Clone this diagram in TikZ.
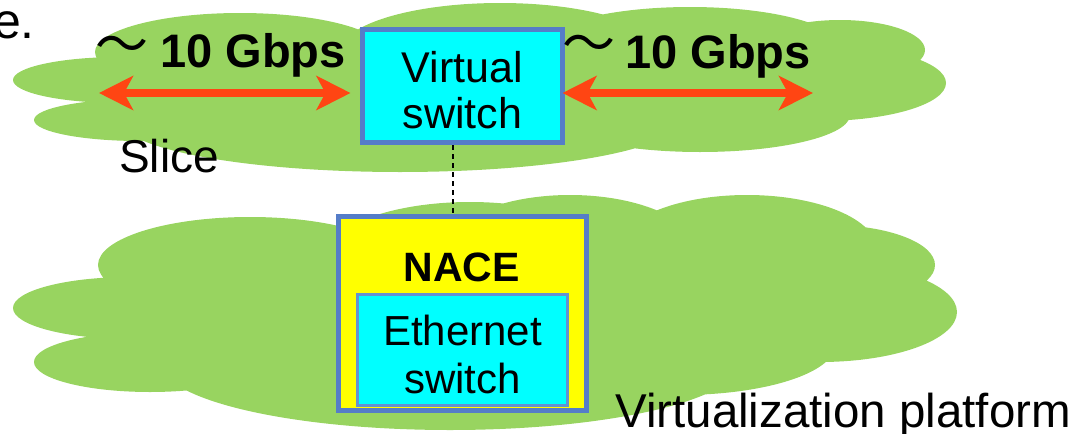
\documentclass[tikz,border=0pt]{standalone}
\usepackage{fontspec}
\setmainfont{Liberation Sans}
\newfontfamily\cjkfont{Noto Sans CJK JP}
\usetikzlibrary{arrows.meta}
\definecolor{cloudgreen}{RGB}{152,212,96}
\definecolor{boxblue}{RGB}{85,125,200}
\definecolor{innerblue}{RGB}{100,145,210}
\definecolor{switchcyan}{RGB}{0,255,255}
\definecolor{naceyellow}{RGB}{255,255,0}
\definecolor{linkred}{RGB}{255,69,19}
\begin{document}
\begin{tikzpicture}[x=1pt,y=-1pt,
  cloud/.style={fill=cloudgreen},
  vswitch/.style={draw=boxblue, line width=5pt, fill=switchcyan, align=center,
    inner sep=0pt, minimum width=200pt, minimum height=113pt,
    text height=84pt, text depth=0pt,
    font=\fontsize{43}{46}\selectfont},
  nacebox/.style={draw=boxblue, line width=5pt, fill=naceyellow, inner sep=0pt,
    minimum width=248pt, minimum height=194pt},
  ethbox/.style={draw=innerblue, line width=3pt, fill=switchcyan, align=center,
    inner sep=0pt, minimum width=210pt, minimum height=111pt,
    text height=86pt, text depth=0pt,
    font=\fontsize{42}{48}\selectfont},
  plain/.style={inner sep=0pt, font=\fontsize{46}{48}\selectfont},
  rate/.style={inner sep=0pt, font=\fontsize{47}{48}\selectfont\bfseries},
  wave/.style={inner sep=0pt, font=\cjkfont\fontsize{53}{53}\selectfont},
  link/.style={draw=linkred, line width=8pt,
    {Stealth[length=34pt,width=34pt,inset=9pt]}-{Stealth[length=34pt,width=34pt,inset=9pt]}},
  tether/.style={draw=black, line width=2.8pt, dash pattern=on 5pt off 4pt}
]
\useasboundingbox (0,0) rectangle (1077,434);

% slice cloud, one path so the lobes merge without seams
\fill[cloud]
  (480,85) ellipse [x radius=380pt, y radius=55pt]
  (120,80) ellipse [x radius=107pt, y radius=23pt]
  (140,120) ellipse [x radius=106pt, y radius=21pt]
  (240,52) ellipse [x radius=145pt, y radius=39pt]
  (400,120) ellipse [x radius=280pt, y radius=52pt]
  (500,52) ellipse [x radius=160pt, y radius=49pt]
  (690,47) ellipse [x radius=150pt, y radius=40pt]
  (840,50) ellipse [x radius=85pt, y radius=30pt]
  (820,83) ellipse [x radius=126pt, y radius=38pt]
  (700,115) ellipse [x radius=150pt, y radius=37pt];

% platform cloud
\fill[cloud]
  (470,320) ellipse [x radius=390pt, y radius=60pt]
  (130,308) ellipse [x radius=117pt, y radius=31pt]
  (150,362) ellipse [x radius=116pt, y radius=30pt]
  (250,265) ellipse [x radius=152pt, y radius=48pt]
  (450,362) ellipse [x radius=290pt, y radius=68pt]
  (470,262) ellipse [x radius=150pt, y radius=60pt]
  (570,255) ellipse [x radius=130pt, y radius=60pt]
  (747,250) ellipse [x radius=130pt, y radius=55pt]
  (830,265) ellipse [x radius=105pt, y radius=40pt]
  (820,312) ellipse [x radius=137pt, y radius=50pt]
  (680,345) ellipse [x radius=155pt, y radius=50pt];

% switches
\node[vswitch] (vs) at (462.5,86) {Virtual\\switch};
\node[nacebox] (nace) at (462.5,313.5) {};
\node[inner sep=0pt, font=\fontsize{41}{41}\selectfont\bfseries, anchor=base] (nacelbl) at (461.5,281) {NACE};
\node[ethbox] (eth) at (462.5,350) {Ethernet\\switch};

% link ends
\coordinate (lend) at (99,93);
\coordinate (rend) at (813,93);
\coordinate (tx) at (453,0);

\draw[link, shorten >=9.5pt] (lend) -- (lend -| vs.west);
\draw[link, shorten <=-2.5pt] (rend -| vs.east) -- (rend);
\draw[tether] (vs.south -| tx) -- (nace.north -| tx);

% labels
\node[wave] (w1) at (122,50) {～};
\node[rate, anchor=base west] (r1) at (160,67) {10 Gbps};
\node[wave] (w2) at (589,49) {～};
\node[rate, anchor=base west] (r2) at (625,68) {10 Gbps};
\node[plain, anchor=base west] (slice) at (119,172) {Slice};
\node[inner sep=0pt, font=\fontsize{47.5}{48}\selectfont, anchor=base west] (plat) at (615,427) {Virtualization platform};
\node[inner sep=0pt, font=\fontsize{50}{50}\selectfont, anchor=base east] (prev) at (35,38) {e.};
\end{tikzpicture}
\end{document}
